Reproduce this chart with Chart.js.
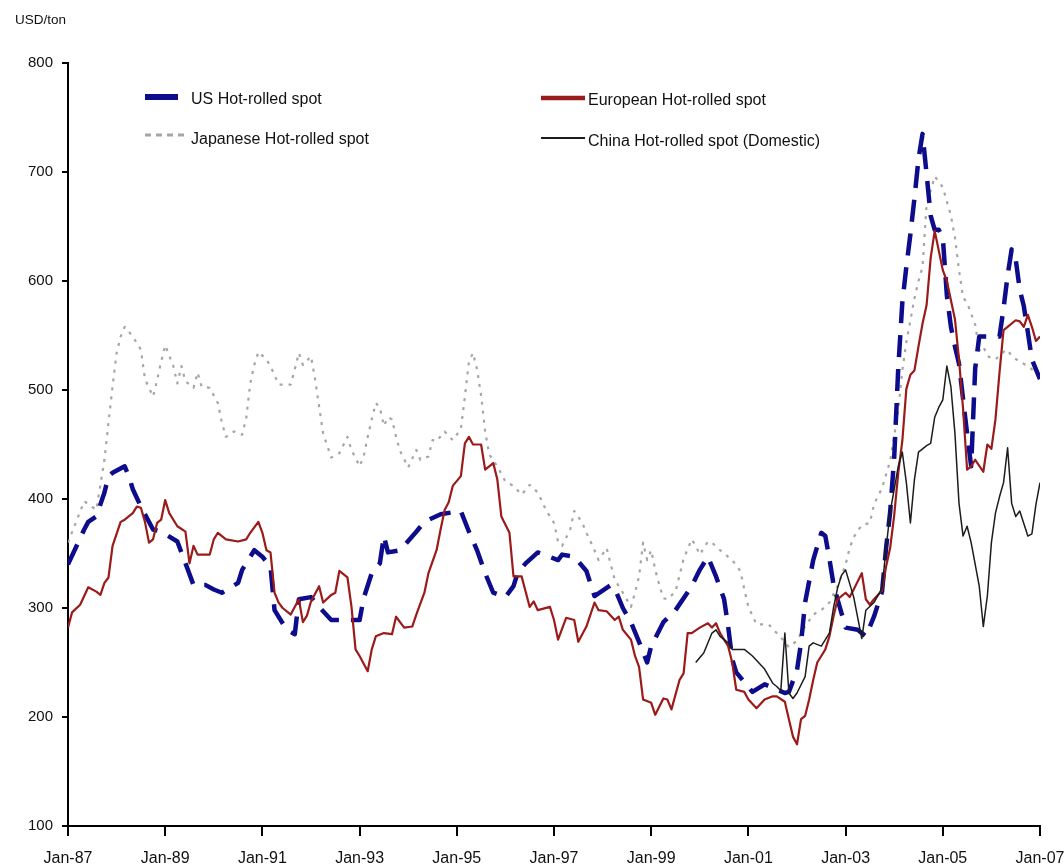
<!DOCTYPE html>
<html>
<head>
<meta charset="utf-8">
<script src="https://cdn.jsdelivr.net/npm/chart.js@4.4.1/dist/chart.umd.min.js"></script>
<style>
  html, body { margin: 0; padding: 0; background: #fff; }
  #wrap { position: relative; width: 1064px; height: 868px; overflow: hidden; }
  #c { position: absolute; left: 0; top: 0; }
  .txt { position: absolute; font-family: "Liberation Sans", Arial, sans-serif; color: #111; white-space: nowrap; line-height: 1; }
  .sw { position: absolute; }
</style>
</head>
<body>
<div id="wrap">
  <canvas id="c" width="1064" height="868"></canvas>
  <div class="txt" id="unit" style="left:15px; top:13px; font-size:13.5px;"></div>
  <div id="legend"></div>
</div>
<script>
// ---------------- DATA ----------------
// x values are months since Jan-1987
const tickLabels = ["Jan-87","Jan-89","Jan-91","Jan-93","Jan-95","Jan-97","Jan-99","Jan-01","Jan-03","Jan-05","Jan-07"];
const seriesNames = ["US Hot-rolled spot","Japanese Hot-rolled spot","European Hot-rolled spot","China Hot-rolled spot (Domestic)"];
const unitLabel = "USD/ton";

const usMonths = [0,2,4,5,7,9,10,11,14,15,16,18,21,23,27,29,31,34,36,38,42,43,46,48,50,51,54,56,57,60,62,65,67,72,73,75,77,78,79,82,86,88,92,97,99,101,103,105,108,110,111,113,116,121,122,125,128,130,134,135,137,139,141,143,144,147,150,154,156,158,160,162,163,164,165,169,172,177,178,180,181,182,184,186,187,188,189,190,192,195,197,199,201,202,203,204,205,206,207,208,209,210,211,212,213,214,215,216,217,218,219,220,222,223,224,225,226,230,231,232,233,234,235,236,237,238,239,240];
const usValues = [340,356,372,379,384,406,421,424,430,421,409,393,372,370,361,341,321,321,317,314,323,335,353,347,338,298,280,276,308,310,301,289,289,289,309,332,341,366,351,353,370,379,386,389,370,353,332,314,310,320,332,341,351,344,349,347,334,311,321,318,300,287,269,250,265,287,298,320,335,347,329,308,283,253,241,223,230,222,223,243,268,305,344,369,366,345,322,308,282,280,274,292,315,355,388,438,520,580,613,643,676,712,735,698,660,647,647,640,587,558,540,524,460,430,520,549,549,549,575,605,629,620,592,577,553,528,519,510];

const euMonths = [0,1,3,5,7,8,9,10,11,13,14,16,17,18,19,20,21,22,23,24,25,27,29,30,31,32,35,36,37,39,42,44,45,47,48,49,50,51,52,53,55,57,58,59,60,62,63,65,66,67,69,70,71,72,74,75,76,78,80,81,83,85,86,88,89,91,92,93,94,95,97,98,99,100,102,103,105,106,107,109,110,112,114,115,116,119,120,121,123,125,126,128,130,131,133,135,136,137,139,140,141,142,144,145,147,148,149,151,152,153,154,156,158,159,160,161,163,164,165,167,168,170,172,174,175,177,178,179,180,181,182,183,184,185,186,187,188,189,190,192,193,194,196,197,198,199,201,202,203,204,205,206,207,208,209,210,211,212,213,214,215,216,217,219,220,221,222,223,224,226,227,228,229,230,231,232,234,235,236,237,238,239,240];
const euValues = [282,296,303,319,315,312,323,328,357,379,381,387,393,392,379,360,363,378,381,399,387,375,370,341,357,349,349,363,369,363,361,363,369,379,369,353,351,314,305,300,294,308,287,293,306,320,305,312,314,334,328,301,262,256,242,262,274,277,276,292,282,283,294,314,332,353,372,390,397,412,421,451,457,450,450,427,433,418,384,369,329,329,301,306,298,301,289,271,291,289,269,283,305,298,297,289,292,280,271,256,246,216,213,202,217,216,207,234,240,277,277,282,286,282,286,277,265,250,225,223,216,208,216,219,219,214,198,182,175,198,201,216,234,250,256,262,274,292,308,314,310,317,332,308,303,308,316,338,355,385,424,453,501,514,518,540,561,578,621,646,628,610,600,565,528,483,427,430,436,425,450,446,473,516,555,558,564,563,558,569,558,545,549];

const jpMonths = [0,4,7,9,10,11,12,13,14,16,18,19,21,22,23,24,26,27,28,29,31,32,33,35,37,38,39,41,43,44,45,46,47,49,50,52,55,56,57,58,60,61,62,63,65,67,69,70,72,73,74,75,76,77,78,79,80,81,82,84,86,87,89,90,91,93,95,97,98,99,100,101,102,103,104,106,108,110,112,114,116,118,120,121,122,124,125,127,128,130,131,133,134,135,137,139,140,141,142,143,144,145,146,147,148,150,151,152,154,155,156,158,159,161,164,166,167,168,170,173,176,178,180,182,184,186,188,190,192,193,194,196,198,199,201,203,205,206,207,209,210,211,212,214,216,218,219,220,221,222,223,224,225,226,227,229,231,232,233,235,237,239,240];
const jpValues = [360,398,390,436,470,503,534,549,558,549,537,510,494,509,526,541,522,506,522,508,502,516,503,502,488,470,457,462,459,474,506,523,535,528,522,505,505,519,534,523,531,510,485,460,438,442,457,445,430,439,457,473,488,484,467,475,473,457,444,429,445,436,439,454,453,462,454,464,494,526,534,519,495,462,441,430,416,412,404,413,406,390,378,361,357,372,389,378,369,353,344,355,340,326,314,301,314,329,360,344,353,335,321,309,308,315,330,345,363,357,349,361,360,353,344,334,317,301,285,285,273,264,270,283,294,298,305,320,340,355,365,376,378,395,410,435,481,518,544,584,600,613,670,696,686,660,640,610,585,580,570,560,536,540,531,528,535,537,531,526,522,516,510];

const cnMonths = [155,157,159,160,161,163,164,167,169,172,174,175,176,177,178,179,180,182,183,184,186,188,189,190,191,192,194,196,197,199,201,202,203,205,206,207,208,209,210,212,213,214,215,216,217,218,219,220,221,222,223,225,226,227,228,229,230,231,232,233,234,235,237,238,239,240];
const cnValues = [250,259,277,280,274,268,262,262,256,244,231,228,224,277,222,217,222,237,265,268,265,277,300,318,330,335,310,272,298,305,318,355,388,430,443,415,378,418,443,449,451,475,484,491,522,503,460,396,366,375,360,320,283,311,360,387,402,415,447,396,384,389,366,368,395,415];

// ---------------- STYLE / LAYOUT ----------------
const FONT = '"Liberation Sans", Arial, sans-serif';
const styles = [
  { color: '#0c0c8c', width: 4.5, dash: [22, 12], order: 3 },
  { color: '#a6a6a6', width: 2.2, dash: [3, 6],   order: 4 },
  { color: '#9b1a1a', width: 2.2, dash: [],       order: 2 },
  { color: '#1c1c1c', width: 1.5, dash: [],       order: 1 }
];
const legendPos = [
  { sx: 145, sy: 97,  sw: 33, tx: 191, ty: 91 },
  { sx: 145, sy: 135, sw: 40, tx: 191, ty: 131 },
  { sx: 541, sy: 98,  sw: 44, tx: 588, ty: 92 },
  { sx: 541, sy: 138, sw: 44, tx: 588, ty: 133 }
];
const legendSw = [
  { w: 6, dash: '' },
  { w: 3, dash: '6 5' },
  { w: 4.5, dash: '' },
  { w: 2, dash: '' }
];

function pts(ms, vs) { return ms.map((m, i) => ({ x: m, y: vs[i] })); }
const seriesData = [pts(usMonths, usValues), pts(jpMonths, jpValues), pts(euMonths, euValues), pts(cnMonths, cnValues)];

const datasets = seriesNames.map((name, i) => ({
  label: name,
  data: seriesData[i],
  borderColor: styles[i].color,
  backgroundColor: styles[i].color,
  borderWidth: styles[i].width,
  borderDash: styles[i].dash,
  borderCapStyle: 'butt',
  borderJoinStyle: 'round',
  pointRadius: 0,
  tension: 0,
  fill: false,
  order: styles[i].order
}));

new Chart(document.getElementById('c').getContext('2d'), {
  type: 'line',
  data: { datasets },
  options: {
    responsive: false,
    animation: false,
    devicePixelRatio: 1,
    layout: { padding: { top: 63, right: 24, left: 0, bottom: 0 } },
    plugins: { legend: { display: false }, tooltip: { enabled: false }, title: { display: false } },
    scales: {
      x: {
        type: 'linear', min: 0, max: 240,
        afterFit(s) { s.height = 42; s.paddingLeft = 0; s.paddingRight = 0; },
        grid: { display: true, drawOnChartArea: false, drawTicks: true, tickLength: 10, color: '#000', lineWidth: 2 },
        border: { display: true, color: '#000', width: 2 },
        ticks: {
          stepSize: 24, autoSkip: false, maxRotation: 0, minRotation: 0, padding: 13,
          color: '#111', font: { family: FONT, size: 16 },
          callback: (v) => tickLabels[Math.round(v / 24)]
        }
      },
      y: {
        min: 100, max: 800,
        afterFit(s) { s.width = 68; s.paddingTop = 0; s.paddingBottom = 0; },
        grid: { display: true, drawOnChartArea: false, drawTicks: true, tickLength: 6, color: '#000', lineWidth: 2 },
        border: { display: true, color: '#000', width: 2 },
        ticks: { stepSize: 100, padding: 9, color: '#111', font: { family: FONT, size: 15 } }
      }
    }
  }
});

// ---------------- LEGEND (HTML text) ----------------
const leg = document.getElementById('legend');
const NS = 'http://www.w3.org/2000/svg';
seriesNames.forEach((name, i) => {
  const p = legendPos[i];
  const svg = document.createElementNS(NS, 'svg');
  svg.setAttribute('class', 'sw');
  svg.setAttribute('width', p.sw);
  svg.setAttribute('height', 10);
  svg.style.left = p.sx + 'px';
  svg.style.top = (p.sy - 5) + 'px';
  const ln = document.createElementNS(NS, 'line');
  ln.setAttribute('x1', 0); ln.setAttribute('x2', p.sw);
  ln.setAttribute('y1', 5); ln.setAttribute('y2', 5);
  ln.setAttribute('stroke', styles[i].color);
  ln.setAttribute('stroke-width', legendSw[i].w);
  if (legendSw[i].dash) ln.setAttribute('stroke-dasharray', legendSw[i].dash);
  svg.appendChild(ln);
  leg.appendChild(svg);
  const t = document.createElement('div');
  t.className = 'txt';
  t.textContent = name;
  t.style.left = p.tx + 'px';
  t.style.top = p.ty + 'px';
  t.style.fontSize = '16px';
  leg.appendChild(t);
});
document.getElementById('unit').textContent = unitLabel;
</script>
</body>
</html>
